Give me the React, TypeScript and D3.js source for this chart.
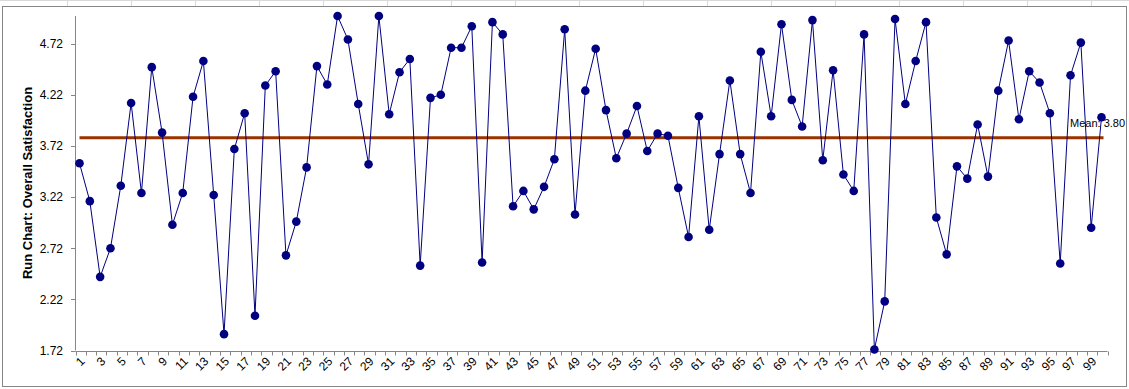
import * as d3 from "d3";

const runs = d3.range(1, 101);
const satisfaction = [
  3.55, 3.18, 2.44, 2.72, 3.33, 4.14, 3.26, 4.49, 3.85, 2.95,
  3.26, 4.2, 4.55, 3.24, 1.88, 3.69, 4.04, 2.06, 4.31, 4.45,
  2.65, 2.98, 3.51, 4.5, 4.32, 4.99, 4.76, 4.13, 3.54, 4.99,
  4.03, 4.44, 4.57, 2.55, 4.19, 4.22, 4.68, 4.68, 4.89, 2.58,
  4.93, 4.81, 3.13, 3.28, 3.1, 3.32, 3.59, 4.86, 3.05, 4.26,
  4.67, 4.07, 3.6, 3.84, 4.11, 3.67, 3.84, 3.82, 3.31, 2.83,
  4.01, 2.9, 3.64, 4.36, 3.64, 3.26, 4.64, 4.01, 4.91, 4.17,
  3.91, 4.95, 3.58, 4.46, 3.44, 3.28, 4.81, 1.73, 2.2, 4.96,
  4.13, 4.55, 4.93, 3.02, 2.66, 3.52, 3.4, 3.93, 3.42, 4.26,
  4.75, 3.98, 4.45, 4.34, 4.04, 2.57, 4.41, 4.73, 2.92, 4.0,
];
const yTicks = [1.72, 2.22, 2.72, 3.22, 3.72, 4.22, 4.72];
const xLabels = runs.filter((r) => r % 2 === 1);
const meanValue = 3.8;
const sheetColumns = [67, 131, 195, 259, 323, 387, 451, 515, 579, 643, 707, 771, 835, 899, 963, 1027, 1091];

const W = 1129;
const H = 389;
const font = "Arial, 'Liberation Sans', sans-serif";

export default function App() {
  const band = d3.scaleBand<number>().domain(runs).range([75.5, 1107.5]);
  const x = d3.scalePoint<number>().domain(runs).range([79.5, 1101.5]);
  const y = d3.scaleLinear().domain([1.72, 4.99]).range([350.5, 16]);

  const line = d3
    .line<number>()
    .x((_, i) => x(runs[i])!)
    .y((d) => y(d));

  const axisColor = "#868686";
  const yBottom = y(1.72);

  return (
    <div style={{ position: "absolute", left: 0, top: 0 }}>
      <svg width={W} height={H} style={{ display: "block", background: "#fff" }}>
        {/* spreadsheet grid peeking above the chart */}
        <line x1={0} x2={W} y1={0.5} y2={0.5} stroke="#d9d9d9" />
        {sheetColumns.map((c) => (
          <line key={c} x1={c + 0.5} x2={c + 0.5} y1={0} y2={6} stroke="#d9d9d9" />
        ))}
        <rect x={2.5} y={6.5} width={1124} height={380} fill="#fff" stroke={axisColor} />

        {/* y axis */}
        <line x1={75.5} x2={75.5} y1={16} y2={yBottom} stroke={axisColor} />
        {yTicks.map((t) => (
          <g key={t}>
            <line x1={71} x2={75.5} y1={Math.round(y(t)) + 0.5} y2={Math.round(y(t)) + 0.5} stroke={axisColor} />
            <text
              x={63}
              y={y(t)}
              dy="0.36em"
              textAnchor="end"
              fontFamily={font}
              fontSize={12}
              fill="#000"
            >
              {t.toFixed(2)}
            </text>
          </g>
        ))}
        <text
          transform={`translate(32,183) rotate(-90)`}
          textAnchor="middle"
          fontFamily={font}
          fontSize={13}
          fontWeight="bold"
          fill="#000"
        >
          Run Chart: Overall Satisfaction
        </text>

        {/* x axis */}
        <line x1={75.5} x2={1107.5} y1={Math.round(yBottom) + 0.5} y2={Math.round(yBottom) + 0.5} stroke={axisColor} />
        {runs.concat([101]).map((r, i) => {
          const px = Math.round(i < runs.length ? band(r)! : band(100)! + band.bandwidth()) + 0.5;
          return (
            <line key={r} x1={px} x2={px} y1={Math.round(yBottom) + 0.5} y2={Math.round(yBottom) + 4.5} stroke={axisColor} />
          );
        })}
        {xLabels.map((r) => (
          <text
            key={r}
            transform={`translate(${x(r)! + 3},${359}) rotate(-45)`}
            textAnchor="end"
            dy="0.35em"
            fontFamily={font}
            fontSize={12}
            fill="#000"
          >
            {r}
          </text>
        ))}

        {/* mean line */}
        <line
          x1={x(1)}
          x2={x(100)! + 2}
          y1={y(meanValue)}
          y2={y(meanValue)}
          stroke="#993300"
          strokeWidth={3}
        />
        <text
          x={1070}
          y={y(meanValue) - 11}
          fontFamily={font}
          fontSize={11}
          fill="#000"
        >
          Mean: {meanValue.toFixed(2)}
        </text>

        {/* run series */}
        <path d={line(satisfaction) ?? ""} fill="none" stroke="#000080" strokeWidth={1} />
        {satisfaction.map((v, i) => (
          <circle key={i} cx={x(runs[i])} cy={y(v)} r={4.3} fill="#000080" />
        ))}
      </svg>
    </div>
  );
}
